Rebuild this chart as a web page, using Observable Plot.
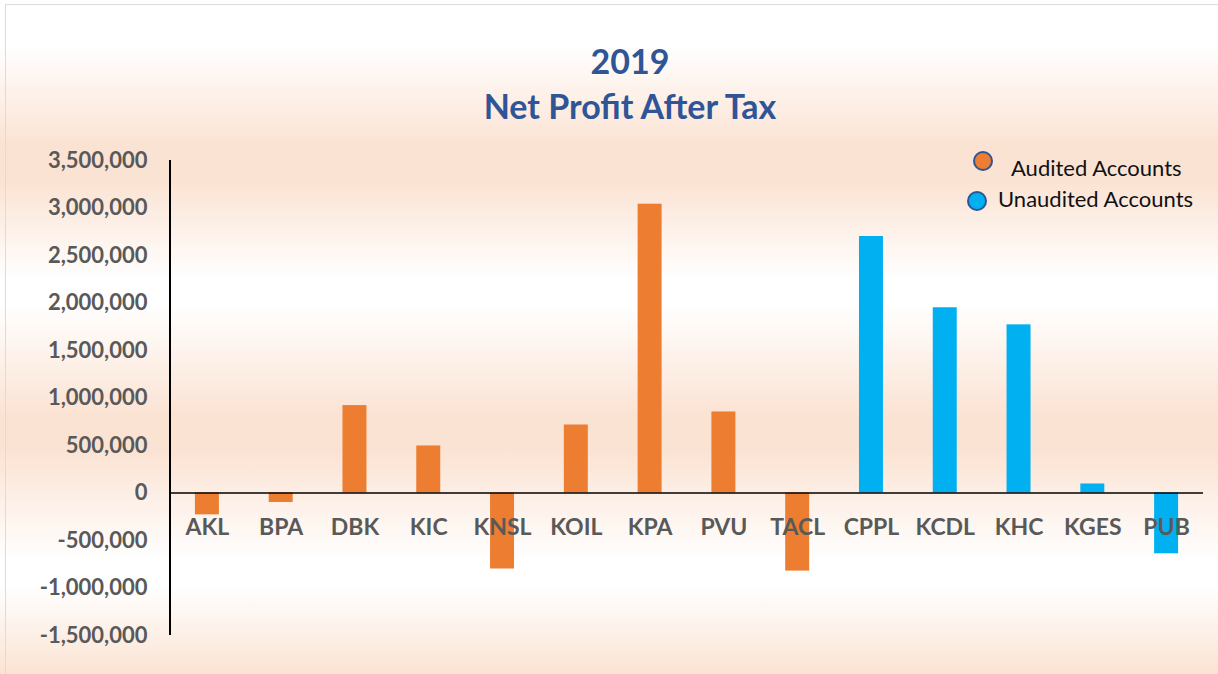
<!DOCTYPE html>
<html><head><meta charset="utf-8">
<script src="https://cdn.jsdelivr.net/npm/d3@7"></script>
<script src="https://cdn.jsdelivr.net/npm/@observablehq/plot@0.6"></script>
<style>
html,body{margin:0;padding:0;}
body{width:1218px;height:674px;overflow:hidden;background:#fff;}
#wrap{position:relative;width:1218px;height:674px;overflow:hidden;
  background:linear-gradient(to bottom,#fff 0px,#fff 45px,#fbe3d3 145px,#fbe3d3 180px,#fff 280px,#fff 305px,#fbe3d3 415px,#fbe3d3 450px,#fff 560px,#fff 585px,#fbe3d3 674px);
  font-family:Lato,"Open Sans",sans-serif;}
#border{position:absolute;left:5px;top:4px;width:1240px;height:700px;border:1.5px solid #dcdcdc;box-sizing:border-box;}
#chart{position:absolute;left:0;top:0;}
.title{position:absolute;left:630px;transform:translate(-50%,-50%);color:#2f5597;font-weight:700;font-size:34px;white-space:nowrap;}
.leg{position:absolute;font-size:22px;color:#111;white-space:nowrap;transform:translateY(-50%);}
.dot{position:absolute;}
</style></head>
<body>
<div id="wrap">
  <div id="border"></div>
  <div id="chart"></div>
  <div class="title" style="top:60px">2019</div>
  <div class="title" style="top:105px">Net Profit After Tax</div>
  <svg class="dot" style="left:972px;top:150px" width="22" height="22"><circle cx="11" cy="11" r="9" fill="#ed7d31" stroke="#2f5597" stroke-width="2"/></svg>
  <div class="leg" style="left:1011px;top:167px">Audited Accounts</div>
  <svg class="dot" style="left:966px;top:190px" width="22" height="22"><circle cx="11" cy="11" r="9" fill="#00b0f0" stroke="#2f5597" stroke-width="2"/></svg>
  <div class="leg" style="left:998px;top:198px">Unaudited Accounts</div>
</div>
<script>
const categories = ["AKL","BPA","DBK","KIC","KNSL","KOIL","KPA","PVU","TACL","CPPL","KCDL","KHC","KGES","PUB"];
const values = [-230000,-100000,920000,495000,-800000,716000,3040000,853000,-822000,2700000,1950000,1770000,95000,-640000];
const groups = ["Audited Accounts","Audited Accounts","Audited Accounts","Audited Accounts","Audited Accounts","Audited Accounts","Audited Accounts","Audited Accounts","Audited Accounts","Unaudited Accounts","Unaudited Accounts","Unaudited Accounts","Unaudited Accounts","Unaudited Accounts"];
const seriesNames = ["Audited Accounts","Unaudited Accounts"];
const seriesColors = ["#ed7d31","#00b0f0"];
const yTicks = [-1500000,-1000000,-500000,0,500000,1000000,1500000,2000000,2500000,3000000,3500000];

const data = categories.map((c,i)=>({category:c, value:values[i], group:groups[i]}));
const fmt = d3.format(",");

const chart = Plot.plot({
  width:1218, height:674,
  marginTop:160, marginBottom:39, marginLeft:170, marginRight:15,
  style:{background:"transparent", color:"#595959", fontFamily:"Lato, 'Open Sans', sans-serif", overflow:"visible"},
  x:{domain:categories, paddingInner:0.675, paddingOuter:0.3375, round:false, axis:null},
  y:{domain:[yTicks[0], yTicks[yTicks.length-1]], axis:null},
  color:{domain:seriesNames, range:seriesColors},
  marks:[
    Plot.barY(data,{x:"category", y:"value", fill:"group"}),
    Plot.ruleY([0],{stroke:"#000", strokeWidth:1.6}),
    Plot.axisY({ticks:yTicks, tickFormat:d=>fmt(d).replace("\u2212","-"), tickSize:0, tickPadding:23, fontSize:22, fontWeight:700, label:null}),
    Plot.text(data,{x:"category", y:()=>0, text:"category", dy:35, fontSize:23, fontWeight:700, fill:"#595959"})
  ]
});
document.getElementById("chart").appendChild(chart);

// vertical axis line along the left edge of the x range
const xs = chart.scale("x"), ys = chart.scale("y");
d3.select(chart).append("line")
  .attr("x1", xs.range[0]).attr("x2", xs.range[0])
  .attr("y1", ys.apply(yTicks[0])).attr("y2", ys.apply(yTicks[yTicks.length-1]))
  .attr("stroke","#000").attr("stroke-width",2);
</script>
</body></html>
